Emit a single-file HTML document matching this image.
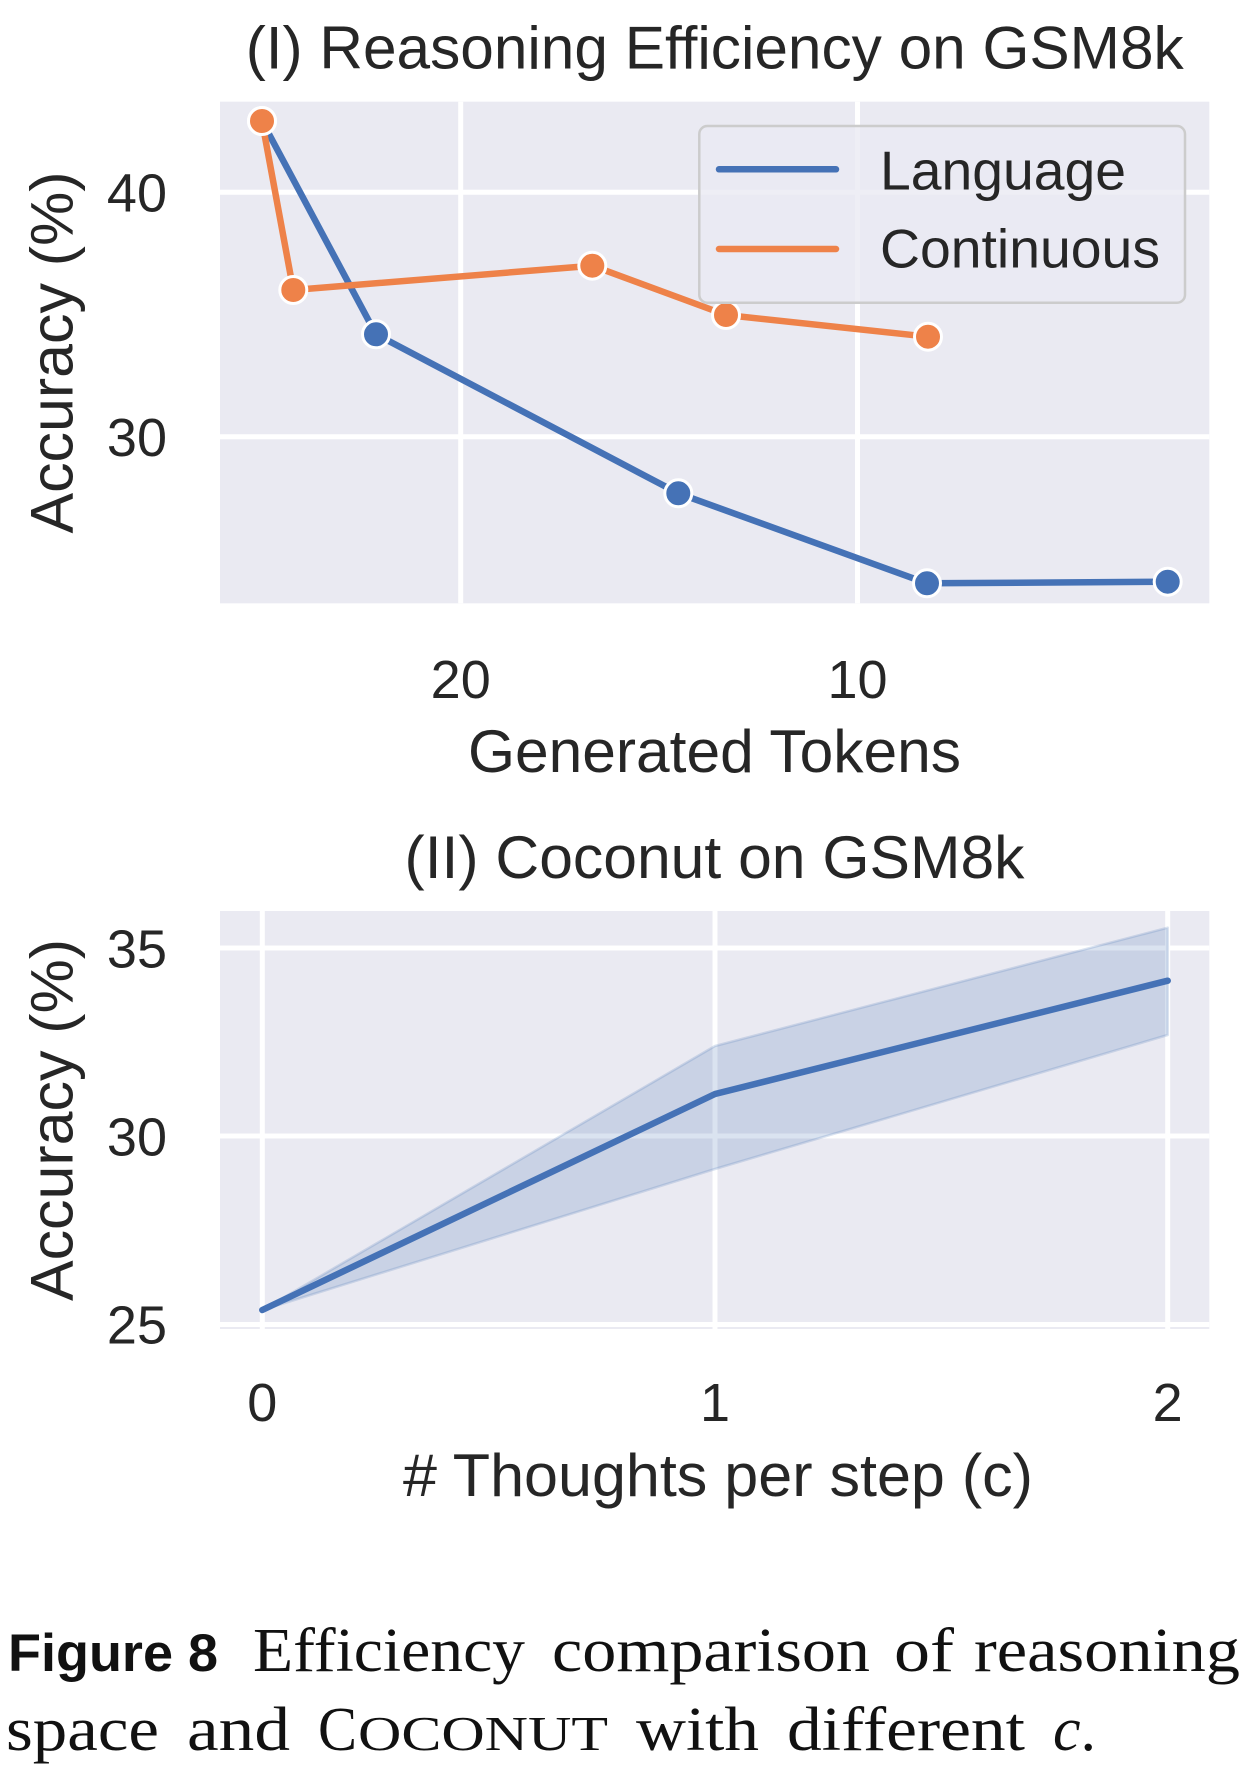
<!DOCTYPE html>
<html><head><meta charset="utf-8"><style>
html,body{margin:0;padding:0;background:#fff;}
svg{display:block;}
</style></head><body>
<svg width="1246" height="1788" viewBox="0 0 1246 1788" xmlns="http://www.w3.org/2000/svg">
<rect width="1246" height="1788" fill="#fff"/>
<!-- ===== Top chart ===== -->
<rect x="220" y="101.7" width="989.3" height="501.6" fill="#eaeaf2"/>
<g stroke="#fff" stroke-width="5">
<line x1="220" y1="192.3" x2="1209.3" y2="192.3"/>
<line x1="220" y1="436.7" x2="1209.3" y2="436.7"/>
<line x1="460.7" y1="101.7" x2="460.7" y2="603.3"/>
<line x1="857.5" y1="101.7" x2="857.5" y2="603.3"/>
</g>
<!-- Language -->
<polyline points="262,121 376,334.3 678.3,493.3 927,583.3 1167.7,581.7" fill="none" stroke="#4572b6" stroke-width="6.5" stroke-linejoin="round" stroke-linecap="round"/>
<g fill="#4572b6" stroke="#fff" stroke-width="3">
<circle cx="262" cy="121" r="13.5"/>
<circle cx="376" cy="334.3" r="13.5"/>
<circle cx="678.3" cy="493.3" r="13.5"/>
<circle cx="927" cy="583.3" r="13.5"/>
<circle cx="1167.7" cy="581.7" r="13.5"/>
</g>
<!-- Continuous -->
<polyline points="262,121 293.3,290 592.3,265.7 726,315 928,336.7" fill="none" stroke="#ee8249" stroke-width="6.5" stroke-linejoin="round" stroke-linecap="round"/>
<g fill="#ee8249" stroke="#fff" stroke-width="3">
<circle cx="262" cy="121" r="13.5"/>
<circle cx="293.3" cy="290" r="13.5"/>
<circle cx="592.3" cy="265.7" r="13.5"/>
<circle cx="726" cy="315" r="13.5"/>
<circle cx="928" cy="336.7" r="13.5"/>
</g>
<!-- Legend -->
<rect x="699.3" y="126" width="485.7" height="176.7" rx="8" ry="8" fill="#eaeaf2" fill-opacity="0.8" stroke="#cccccc" stroke-width="2.5"/>
<line x1="719" y1="169.3" x2="836" y2="169.3" stroke="#4572b6" stroke-width="6.5" stroke-linecap="round"/>
<line x1="719" y1="249" x2="836" y2="249" stroke="#ee8249" stroke-width="6.5" stroke-linecap="round"/>
<g font-family="'Liberation Sans', Arial, sans-serif" fill="#262626">
<text x="880" y="189.3" font-size="55" textLength="246" lengthAdjust="spacingAndGlyphs">Language</text>
<text x="880" y="267.5" font-size="55" textLength="280" lengthAdjust="spacingAndGlyphs">Continuous</text>
<!-- title -->
<text x="714.7" y="68.6" font-size="60.5" text-anchor="middle" textLength="938" lengthAdjust="spacingAndGlyphs">(I) Reasoning Efficiency on GSM8k</text>
<!-- y ticks -->
<text x="167" y="211.6" font-size="54" text-anchor="end">40</text>
<text x="167" y="456" font-size="54" text-anchor="end">30</text>
<!-- x ticks -->
<text x="460.7" y="698" font-size="54" text-anchor="middle">20</text>
<text x="857.5" y="698" font-size="54" text-anchor="middle">10</text>
<!-- x label -->
<text x="714.5" y="772" font-size="60" text-anchor="middle" textLength="493" lengthAdjust="spacingAndGlyphs">Generated Tokens</text>
<!-- y label -->
<text transform="translate(72.3,352.5) rotate(-90)" x="0" y="0" font-size="60" text-anchor="middle" textLength="362" lengthAdjust="spacingAndGlyphs">Accuracy (%)</text>
</g>

<!-- ===== Bottom chart ===== -->
<rect x="220" y="911" width="989.3" height="418" fill="#eaeaf2"/>
<g stroke="#fff" stroke-width="5">
<line x1="220" y1="948" x2="1209.3" y2="948"/>
<line x1="220" y1="1136" x2="1209.3" y2="1136"/>
<line x1="220" y1="1324.5" x2="1209.3" y2="1324.5"/>
<line x1="262.3" y1="911" x2="262.3" y2="1329"/>
<line x1="715" y1="911" x2="715" y2="1329"/>
<line x1="1167.7" y1="911" x2="1167.7" y2="1329"/>
</g>
<polygon points="262.3,1310 715,1046 1167.7,927.7 1167.7,1035 715,1169 262.3,1310" fill="#4572b6" fill-opacity="0.2" stroke="#4572b6" stroke-opacity="0.2" stroke-width="2.5" stroke-linejoin="round"/>
<polyline points="262.3,1310 715,1094 1167.7,980.7" fill="none" stroke="#4572b6" stroke-width="6.5" stroke-linejoin="round" stroke-linecap="round"/>
<g font-family="'Liberation Sans', Arial, sans-serif" fill="#262626">
<text x="714.5" y="878" font-size="60.5" text-anchor="middle" textLength="620" lengthAdjust="spacingAndGlyphs">(II) Coconut on GSM8k</text>
<text x="167" y="967.3" font-size="54" text-anchor="end">35</text>
<text x="167" y="1155.3" font-size="54" text-anchor="end">30</text>
<text x="167" y="1343.5" font-size="54" text-anchor="end">25</text>
<text x="262.3" y="1421" font-size="54" text-anchor="middle">0</text>
<text x="715" y="1421" font-size="54" text-anchor="middle">1</text>
<text x="1167.7" y="1421" font-size="54" text-anchor="middle">2</text>
<text x="718" y="1496" font-size="60" text-anchor="middle" textLength="630" lengthAdjust="spacingAndGlyphs"># Thoughts per step (c)</text>
<text transform="translate(72.3,1120) rotate(-90)" x="0" y="0" font-size="60" text-anchor="middle" textLength="362" lengthAdjust="spacingAndGlyphs">Accuracy (%)</text>
</g>

<!-- ===== Caption ===== -->
<text x="8" y="1671" font-family="'Liberation Sans', Arial, sans-serif" font-weight="bold" font-size="53" fill="#111" textLength="210" lengthAdjust="spacingAndGlyphs">Figure 8</text>
<g font-family="'Liberation Serif', 'Times New Roman', serif" font-size="62" fill="#111">
<text x="253" y="1671" textLength="272" lengthAdjust="spacingAndGlyphs">Efficiency</text>
<text x="552" y="1671" textLength="318" lengthAdjust="spacingAndGlyphs">comparison</text>
<text x="894" y="1671" textLength="60" lengthAdjust="spacingAndGlyphs">of</text>
<text x="974" y="1671" textLength="266" lengthAdjust="spacingAndGlyphs">reasoning</text>
<text x="6" y="1750" textLength="153" lengthAdjust="spacingAndGlyphs">space</text>
<text x="187" y="1750" textLength="103" lengthAdjust="spacingAndGlyphs">and</text>
<text x="318" y="1750" textLength="39" lengthAdjust="spacingAndGlyphs">C</text>
<text x="358" y="1750" font-size="49" textLength="250" lengthAdjust="spacingAndGlyphs">OCONUT</text>
<text x="636" y="1750" textLength="123" lengthAdjust="spacingAndGlyphs">with</text>
<text x="787" y="1750" textLength="238" lengthAdjust="spacingAndGlyphs">different</text>
<text x="1053" y="1750"><tspan font-style="italic">c</tspan>.</text>
</g>
</svg>
</body></html>
